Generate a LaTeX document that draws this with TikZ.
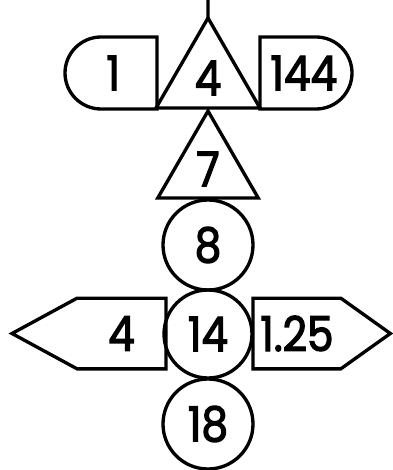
\documentclass[tikz,border=0pt]{standalone}
\usepackage{fontspec}
\setmainfont{Poppins}[FakeStretch=0.88, FakeBold=2.6]
\usetikzlibrary{shapes.geometric,shapes.misc,shapes.symbols}
\tikzset{
  numshape/.style={draw, line width=2.5pt, inner sep=0pt, outer sep=0pt,
                   font=\fontsize{36}{40}\selectfont},
  tri/.style={numshape, regular polygon, regular polygon sides=3},
  ring/.style={numshape, circle},
  tab/.style={numshape, rounded rectangle, minimum width=69pt, minimum height=54pt},
  flag/.style={numshape, signal, minimum height=53pt},
  wire/.style={line width=2.5pt}}
\begin{document}
\begin{tikzpicture}[x=0.75pt, y=-0.75pt]
  \useasboundingbox (0,0) rectangle (392,470);
  % centre column
  \node[tri, minimum size=90pt] (t4) at (208,78) {4};
  \node[tri, minimum size=87pt] (t7) at (208,169) {7};
  \node[ring, minimum size=67.5pt] (c8) at (208,245) {8};
  \node[ring, minimum size=66pt] (c14) at (208,334) {14};
  \node[ring, minimum size=67.5pt] (c18) at (208,424) {18};
  % side boxes
  \node[tab, rounded rectangle right arc=none, anchor=east] (r1) at (157,73) {1};
  \node[tab, rounded rectangle left arc=none, anchor=west] (r144) at (260,73) {144};
  \node[flag, signal to=west, signal pointer angle=57, minimum width=115.5pt,
        anchor=east] (s4) at (166,333.5) {4};
  \node[flag, signal to=east, signal pointer angle=71, minimum width=103pt,
        anchor=west] (s125) at (253,333.5) {1.25};
  \coordinate (top) at (208,0);
  \draw[wire] (t4.north) -- (top);
\end{tikzpicture}
\end{document}
